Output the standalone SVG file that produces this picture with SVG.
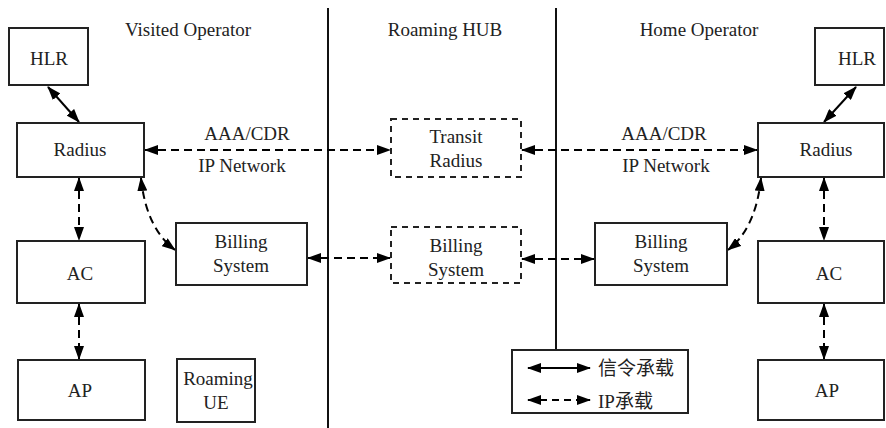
<svg xmlns="http://www.w3.org/2000/svg" width="886" height="428" viewBox="0 0 886 428">
<defs>
<marker id="ah" markerUnits="userSpaceOnUse" markerWidth="14" markerHeight="10" refX="13" refY="5" orient="auto-start-reverse" viewBox="0 0 14 10">
<path d="M0,0 L14,5 L0,10 z" fill="#000"/>
</marker>
</defs>
<style>
.box{fill:#fff;stroke:#222;stroke-width:2}
.dbox{fill:#fff;stroke:#222;stroke-width:2;stroke-dasharray:6,5}
.t{font-family:"Liberation Serif","Times New Roman",serif;font-size:19px;fill:#222;text-anchor:middle}
.tc{font-family:"Liberation Serif","Noto Sans CJK SC",serif;font-size:19px;fill:#222}
.sep{stroke:#111;stroke-width:2;fill:none}
.sol{stroke:#000;stroke-width:2;fill:none;marker-start:url(#ah);marker-end:url(#ah)}
.dsh{stroke:#000;stroke-width:2;fill:none;stroke-dasharray:8,5;marker-start:url(#ah);marker-end:url(#ah)}
</style>
<rect width="886" height="428" fill="#fff"/>
<g id="separators">
<line class="sep" x1="328" y1="8" x2="328" y2="428"/>
<line class="sep" x1="556" y1="8" x2="556" y2="350"/>
</g>
<g id="headings">
<text class="t" x="188" y="36">Visited Operator</text>
<text class="t" x="445" y="36">Roaming HUB</text>
<text class="t" x="699" y="36">Home Operator</text>
</g>
<g id="connectors">
<line class="sol" x1="48" y1="87" x2="79" y2="122"/>
<line class="sol" x1="856" y1="87" x2="824" y2="122"/>
<line class="dsh" x1="145" y1="150" x2="390" y2="150"/>
<line class="dsh" x1="522" y1="150" x2="757" y2="150"/>
<line class="dsh" x1="308" y1="258" x2="390" y2="258"/>
<line class="dsh" x1="522" y1="259" x2="594" y2="259"/>
<line class="dsh" x1="79" y1="178" x2="79" y2="240"/>
<line class="dsh" x1="79" y1="304" x2="79" y2="359"/>
<line class="dsh" x1="824" y1="178" x2="824" y2="240"/>
<line class="dsh" x1="824" y1="304" x2="824" y2="359"/>
<path class="dsh" d="M141,178 Q146,228 175,250"/>
<path class="dsh" d="M761,178 Q756,228 728,250"/>
</g>
<g id="labels">
<text class="t" x="247" y="140">AAA/CDR</text>
<text class="t" x="242" y="172">IP Network</text>
<text class="t" x="664" y="140">AAA/CDR</text>
<text class="t" x="666" y="172">IP Network</text>
</g>
<g id="hlr-v"><rect class="box" x="9" y="28" width="79" height="57"/><text class="t" x="49" y="65">HLR</text></g>
<g id="radius-v"><rect class="box" x="17" y="123" width="127" height="54"/><text class="t" x="80" y="156">Radius</text></g>
<g id="ac-v"><rect class="box" x="17" y="241" width="128" height="62"/><text class="t" x="80" y="280">AC</text></g>
<g id="ap-v"><rect class="box" x="18" y="360" width="127" height="60"/><text class="t" x="80" y="397">AP</text></g>
<g id="billing-v"><rect class="box" x="176" y="223" width="131" height="62"/><text class="t" x="241" y="248">Billing</text><text class="t" x="241" y="272">System</text></g>
<g id="ue"><rect class="box" x="177" y="359" width="78" height="63"/><text class="t" x="218" y="385">Roaming</text><text class="t" x="216" y="409">UE</text></g>
<g id="transit"><rect class="dbox" x="391" y="119" width="130" height="58"/><text class="t" x="456" y="143">Transit</text><text class="t" x="456" y="167">Radius</text></g>
<g id="billing-hub"><rect class="dbox" x="391" y="227" width="130" height="56"/><text class="t" x="456" y="252">Billing</text><text class="t" x="456" y="276">System</text></g>
<g id="billing-h"><rect class="box" x="595" y="223" width="132" height="62"/><text class="t" x="661" y="248">Billing</text><text class="t" x="661" y="272">System</text></g>
<g id="hlr-h"><rect class="box" x="815" y="28" width="69" height="57"/><text class="t" x="857" y="65">HLR</text></g>
<g id="radius-h"><rect class="box" x="758" y="123" width="126" height="54"/><text class="t" x="826" y="156">Radius</text></g>
<g id="ac-h"><rect class="box" x="758" y="241" width="126" height="62"/><text class="t" x="829" y="280">AC</text></g>
<g id="ap-h"><rect class="box" x="758" y="360" width="126" height="60"/><text class="t" x="827" y="397">AP</text></g>
<g id="legend">
<rect class="box" x="512" y="350" width="176" height="63"/>
<line class="sol" x1="528" y1="368" x2="590" y2="368"/>
<line class="dsh" x1="528" y1="400" x2="590" y2="400" style="stroke-dasharray:7,5"/>
<text class="tc" x="598" y="375">信令承载</text>
<text class="tc" x="598" y="408">IP承载</text>
</g>
</svg>
